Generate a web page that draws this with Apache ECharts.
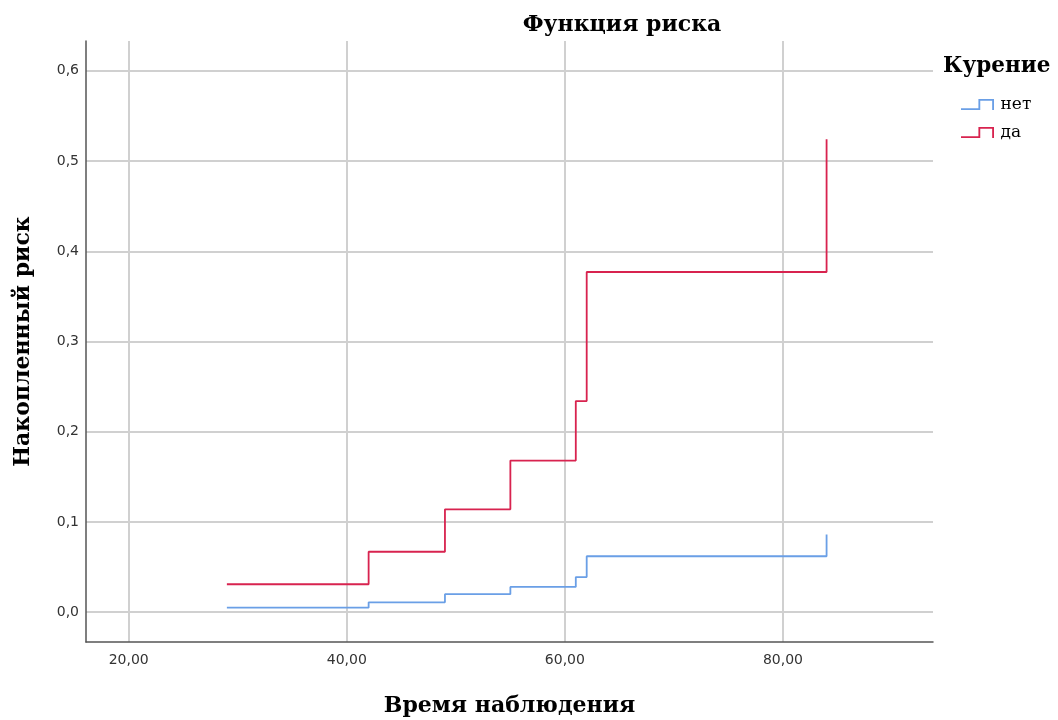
<!DOCTYPE html>
<html>
<head>
<meta charset="utf-8">
<script src="https://cdn.jsdelivr.net/npm/echarts@6/dist/echarts.min.js"></script>
<style>
  html, body { margin: 0; padding: 0; background: #fff; }
  #chart { width: 1058px; height: 720px; }
</style>
</head>
<body>
<div id="chart"></div>
<script>
// Cumulative hazard by smoking status (step function)
const timeNo  = [29, 42, 49, 55, 61, 62, 84];
const riskNo  = [0.005, 0.011, 0.020, 0.028, 0.039, 0.062, 0.086];
const timeYes = [29, 42, 49, 55, 61, 62, 84];
const riskYes = [0.031, 0.067, 0.114, 0.168, 0.234, 0.377, 0.524];
const groupNames = ['нет', 'да'];
const xTicks = [20, 40, 60, 80];
const yTicks = [0, 0.1, 0.2, 0.3, 0.4, 0.5, 0.6];

const pairs = (xs, ys) => xs.map((x, i) => [x, ys[i]]);
const serif = '"DejaVu Serif", "Liberation Serif", serif';
const sans = '"DejaVu Sans", "Liberation Sans", sans-serif';
// small step-shaped legend glyph
const stepIcon = 'path://M0,10 L19,10 L19,0 L36,0 L36,12 L34,12 L34,2 L21,2 L21,12 L0,12 Z';

const chart = echarts.init(document.getElementById('chart'));
chart.setOption({
  animation: false,
  backgroundColor: '#ffffff',
  title: {
    text: 'Функция риска',
    left: 617, top: 9, textAlign: 'center',
    textStyle: { fontFamily: serif, fontWeight: 'bold', fontSize: 22, color: '#000' }
  },
  graphic: [{
    type: 'text', left: 943, top: 55,
    style: { text: 'Курение', font: 'bold 21.5px ' + serif, fill: '#000' }
  }],
  legend: {
    orient: 'vertical', left: 956, top: 91,
    itemWidth: 36, itemHeight: 11, itemGap: 11,
    data: groupNames.map(n => ({ name: n, icon: stepIcon })),
    textStyle: { fontFamily: serif, fontSize: 17, color: '#000' }
  },
  grid: { left: 86, right: 125, top: 41, bottom: 78, outerBoundsMode: 'none' },
  xAxis: {
    type: 'value', min: 16.08, max: 93.76,
    name: 'Время наблюдения', nameLocation: 'middle', nameGap: 53,
    nameTextStyle: { fontFamily: serif, fontWeight: 'bold', fontSize: 22, color: '#000' },
    axisLine: { show: true, onZero: false, lineStyle: { color: '#555', width: 1.5 } },
    axisTick: { show: false, customValues: xTicks },
    axisLabel: {
      customValues: xTicks, margin: 11, color: '#333',
      fontFamily: sans, fontSize: 14,
      formatter: v => v.toFixed(2).replace('.', ',')
    },
    splitLine: { show: true, lineStyle: { color: '#d0d0d0', width: 2 } }
  },
  yAxis: {
    type: 'value', min: -0.033, max: 0.633,
    name: 'Накопленный риск', nameLocation: 'middle', nameGap: 52,
    nameTextStyle: { fontFamily: serif, fontWeight: 'bold', fontSize: 22, color: '#000' },
    axisLine: { show: true, onZero: false, lineStyle: { color: '#555', width: 1.5 } },
    axisTick: { show: false, customValues: yTicks },
    axisLabel: {
      customValues: yTicks, margin: 7, color: '#333',
      fontFamily: sans, fontSize: 14,
      formatter: v => v.toFixed(1).replace('.', ',')
    },
    splitLine: { show: true, lineStyle: { color: '#d0d0d0', width: 2 } }
  },
  series: [
    {
      name: groupNames[0], type: 'line', step: 'end', showSymbol: false,
      data: pairs(timeNo, riskNo),
      lineStyle: { color: '#6a9fe6', width: 1.8 },
      itemStyle: { color: '#6a9fe6' }
    },
    {
      name: groupNames[1], type: 'line', step: 'end', showSymbol: false,
      data: pairs(timeYes, riskYes),
      lineStyle: { color: '#d8234f', width: 1.8 },
      itemStyle: { color: '#d8234f' }
    }
  ]
});
</script>
</body>
</html>
